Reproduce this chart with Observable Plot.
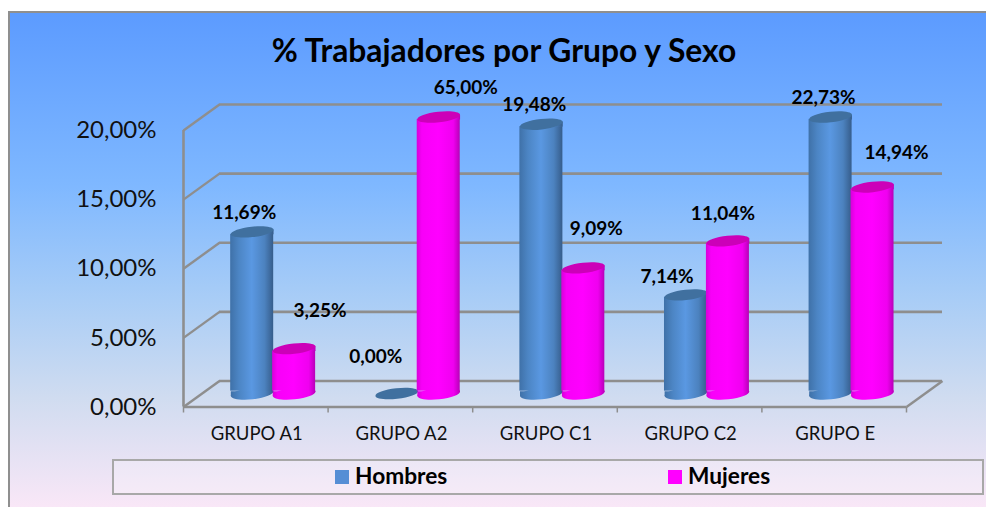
<!DOCTYPE html>
<html lang="es">
<head>
<meta charset="utf-8">
<script src="https://cdn.jsdelivr.net/npm/d3@7"></script>
<script src="https://cdn.jsdelivr.net/npm/@observablehq/plot@0.6"></script>
<style>
  html, body { margin: 0; padding: 0; width: 986px; height: 507px; background: #fff; overflow: hidden; }
  #panel { position: absolute; left: 8px; top: 11px; width: 978px; height: 496px; box-sizing: border-box;
    border-left: 2px solid #8f8f8f; border-top: 2px solid #8f8f8f;
    background: linear-gradient(180deg, #5c9bff 0%, #7fb8ff 35%, #a9cdf6 58%, #d0dcf0 78%, #f9e7f7 100%); }
  #title { position: absolute; left: 0; top: 31px; width: 1008px; text-align: center;
    font: 700 31.8px Lato, sans-serif; color: #000; white-space: nowrap; }
  #chart { position: absolute; left: 0; top: 0; }
  #legend { position: absolute; left: 112px; top: 459px; width: 872px; height: 36px; box-sizing: border-box;
    border: 2px solid #a8a8a8; background: rgba(255,255,255,.2); }
  .key { position: absolute; top: 9px; width: 14px; height: 14px; }
  .keytext { position: absolute; top: 1px; font: 700 22.7px Lato, sans-serif; color: #000; }
</style>
</head>
<body>
<div id="panel"></div>
<div id="chart"></div>
<div id="title">% Trabajadores por Grupo y Sexo</div>
<div id="legend">
  <div class="key" style="left:221px;background:#558ed5"></div><div class="keytext" style="left:241px">Hombres</div>
  <div class="key" style="left:554px;background:#ff00ff"></div><div class="keytext" style="left:574px">Mujeres</div>
</div>
<script>
const categories = ["GRUPO A1", "GRUPO A2", "GRUPO C1", "GRUPO C2", "GRUPO E"];
const hombres = [11.69, 0, 19.48, 7.14, 22.73];
const mujeres = [3.25, 65, 9.09, 11.04, 14.94];
const yTicks = [0, 5, 10, 15, 20];
const yMax = 20;

const fmt = v => v.toFixed(2).replace(".", ",") + "%";

// 3D box depth, in data units of the two scales
const depthX = 0.249, depthY = 1.88;
const baseY = 0.975;
const halfW = 0.1487, tiltY = 0.17;
const centerH = 0.475, centerM = 0.765;

const rows = (values, center) => values.map((v, i) => ({
  cat: categories[i], value: v, cx: i + center,
  top: Math.min(v, yMax) + baseY
}));
const rowsH = rows(hombres, centerH);
const rowsM = rows(mujeres, centerM);

// tilted ellipse for cylinder ends
const A = 21.5, T = 0.11, K = 0.5523;
const ax = A * Math.cos(T), ay = -A * Math.sin(T);
const tiltedEllipse = B => {
  const bx = B * Math.sin(T), by = B * Math.cos(T);
  return { draw(c) {
    c.moveTo(ax, ay);
    c.bezierCurveTo(ax + K * bx, ay + K * by, bx + K * ax, by + K * ay, bx, by);
    c.bezierCurveTo(bx - K * ax, by - K * ay, -ax + K * bx, -ay + K * by, -ax, -ay);
    c.bezierCurveTo(-ax - K * bx, -ay - K * by, -bx - K * ax, -by - K * ay, -bx, -by);
    c.bezierCurveTo(-bx + K * ax, -by + K * ay, ax - K * bx, ay - K * by, ax, ay);
    c.closePath();
  }};
};
const topEnd = tiltedEllipse(5.2), bottomEnd = tiltedEllipse(5.8);
// wedges joining the level body to the tilted ends
const wedgeTop = { draw(c) {
  c.moveTo(-ax, -ay); c.lineTo(ax, ay); c.lineTo(ax, -ay); c.closePath();
}};
const wedgeBottom = { draw(c) {
  c.moveTo(-ax, -ay); c.lineTo(ax, ay); c.lineTo(-ax, ay); c.closePath();
}};

function cylinder(data, body, cap) {
  const solid = data.filter(d => d.value > 0);
  return [
    Plot.dot(solid, {x: "cx", y: baseY, symbol: bottomEnd, fill: body, stroke: "none"}),
    Plot.dot(solid, {x: "cx", y: baseY, symbol: wedgeBottom, fill: body, stroke: "none"}),
    Plot.rect(solid, {x1: d => d.cx - halfW, x2: d => d.cx + halfW, y1: baseY + tiltY, y2: d => d.top - tiltY, fill: body}),
    Plot.dot(solid, {x: "cx", y: "top", symbol: wedgeTop, fill: body, stroke: "none"}),
    Plot.dot(data, {x: "cx", y: "top", symbol: topEnd, fill: cap, stroke: "none"})
  ];
}

// label nudges from each cylinder top, in pixels: [dx, dy]
const nudgeH = [[-8, -19], [-21, -37], [-7, -19], [-19, -18], [-7, -19]];
const nudgeM = [[26, -38], [27, -29], [13, -39], [-5, -27], [24, -34]];

const labels = (data, nudge) => data.map((d, i) => Plot.text([d], {
  x: "cx", y: "top", text: d => fmt(d.value), dx: nudge[i][0], dy: nudge[i][1],
  fontSize: 19, fontWeight: 700, fill: "#000"
}));

const gridColor = "#8e8e8e";
const defs = () => d3.create("svg:defs").html(`
  <linearGradient id="blueBody" x1="0" x2="1" y1="0" y2="0">
    <stop offset="0" stop-color="#3f71a8"/><stop offset=".2" stop-color="#4c85c4"/>
    <stop offset=".5" stop-color="#5a98e2"/><stop offset=".8" stop-color="#4c82bf"/>
    <stop offset="1" stop-color="#365d8b"/>
  </linearGradient>
  <linearGradient id="pinkBody" x1="0" x2="1" y1="0" y2="0">
    <stop offset="0" stop-color="#d800d8"/><stop offset=".12" stop-color="#f800f8"/>
    <stop offset=".5" stop-color="#ff00ff"/><stop offset=".85" stop-color="#f000f0"/>
    <stop offset="1" stop-color="#b800b8"/>
  </linearGradient>`).node();

const chart = Plot.plot({
  width: 986, height: 507,
  marginLeft: 183, marginRight: 80, marginTop: 130, marginBottom: 100.5,
  x: {domain: [0, 5]},
  y: {domain: [0, yMax]},
  style: {background: "transparent", fontFamily: "Lato, sans-serif", overflow: "visible"},
  marks: [
    defs,
    // back wall and floor
    Plot.ruleY(yTicks, {y: d => d + depthY, x1: depthX, x2: 5 + depthX, stroke: gridColor, strokeWidth: 2.6}),
    Plot.link(yTicks, {x1: 0, y1: d => d, x2: depthX, y2: d => d + depthY, stroke: gridColor, strokeWidth: 2.4}),
    Plot.link([0], {x1: 5, y1: 0, x2: 5 + depthX, y2: depthY, stroke: gridColor, strokeWidth: 2.4}),
    Plot.ruleX([0], {y1: 0, y2: yMax, stroke: gridColor, strokeWidth: 2.6}),
    Plot.ruleY([0], {x1: 0, x2: 5, stroke: gridColor, strokeWidth: 2.6}),
    // axes
    Plot.axisY(yTicks, {anchor: "left", tickSize: 0, tickPadding: 27, tickFormat: fmt, fontSize: 24, fill: "#111", label: null}),
    Plot.axisX([0, 1, 2, 3, 4, 5], {anchor: "bottom", tickSize: 6, tickFormat: () => "", stroke: gridColor, strokeWidth: 1.5, label: null}),
    Plot.axisX(categories.map((c, i) => i + 0.5), {anchor: "bottom", tickSize: 0, tickPadding: 20, dx: 1,
      tickFormat: d => categories[d - 0.5], fontSize: 18.5, fill: "#111", label: null}),
    // cylinders
    ...cylinder(rowsH, "url(#blueBody)", "#40709f"),
    ...cylinder(rowsM, "url(#pinkBody)", "#cc00b8"),
    // data labels
    ...labels(rowsH, nudgeH),
    ...labels(rowsM, nudgeM)
  ]
});
document.getElementById("chart").append(chart);
</script>
</body>
</html>
